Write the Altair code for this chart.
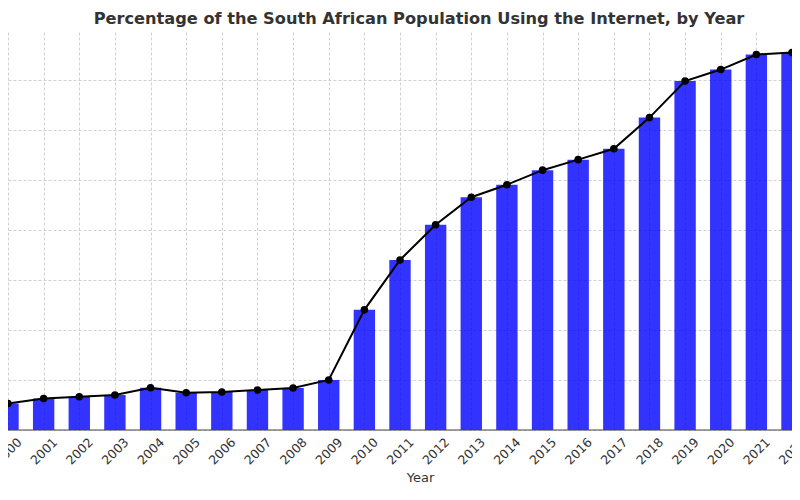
import altair as alt
import pandas as pd

years = list(range(2000, 2023))
internet_pct = [5.3, 6.3, 6.65, 7.0, 8.43, 7.45, 7.6, 8.0, 8.4, 10.0,
                24.0, 33.97, 41.0, 46.5, 49.0, 51.9, 54.0, 56.17, 62.4, 69.7,
                72.0, 75.0, 75.4]
title_text = "Percentage of the South African Population Using the Internet, by Year"
y_ticks = [0, 10, 20, 30, 40, 50, 60, 70]
baseline_value = [0]

df = pd.DataFrame({"year": years, "pct": internet_pct})
df_base = pd.DataFrame({"v": baseline_value})

FONT = "DejaVu Sans"
TXT = "#333333"

xscale = alt.Scale(domain=[2000, 2022], nice=False, zero=False)
yscale = alt.Scale(domain=[0, 79.5], nice=False)

xaxis = alt.Axis(
    values=years, format="d", title="Year", labelAngle=-45, labelAlign="center",
    labelBaseline="middle", labelPadding=21, ticks=False, labelFlush=False,
    labelOverlap=False, labelFontSize=12.5, labelColor=TXT, labelFont=FONT,
    titleFontSize=13, titleFontWeight="normal", titleColor=TXT, titleFont=FONT,
    titleX=412, titleY=51, titleBaseline="alphabetic", titleAlign="center",
    domain=False, grid=True, gridColor="#c4c4c4",
    gridDash=[3, 2], gridWidth=0.8,
)
yaxis = alt.Axis(
    values=y_ticks, title=None, labels=False, ticks=False, domain=False,
    grid=True, gridColor="#c4c4c4", gridDash=[3, 2], gridWidth=0.8,
)

base = alt.Chart(df)

bars = base.transform_calculate(
    x0="datum.year - 0.3", x1="datum.year + 0.3"
).mark_bar(color="#0000ff", opacity=0.8).encode(
    x=alt.X("x0:Q", scale=xscale, axis=xaxis),
    x2="x1:Q",
    y=alt.Y("pct:Q", scale=yscale, axis=yaxis),
    y2=alt.datum(0),
)

axis_line = alt.Chart(df_base).mark_rule(color="#444444", strokeWidth=1).encode(
    y=alt.Y("v:Q", scale=yscale, axis=yaxis),
)

line = base.mark_line(color="black", strokeWidth=2).encode(
    x=alt.X("year:Q", scale=xscale, axis=xaxis),
    y=alt.Y("pct:Q", scale=yscale, axis=yaxis),
)

points = base.mark_circle(color="black", size=58, opacity=1).encode(
    x=alt.X("year:Q", scale=xscale, axis=xaxis),
    y=alt.Y("pct:Q", scale=yscale, axis=yaxis),
)

chart = alt.layer(bars, axis_line, line, points).properties(
    width=784,
    height=398,
    title=alt.TitleParams(
        text=title_text, fontSize=16.2, fontWeight="bold", color=TXT, font=FONT,
        anchor="middle", dx=19, dy=15, offset=7, baseline="alphabetic",
    ),
    autosize=alt.AutoSizeParams(type="none"),
    padding={"left": 0, "right": 0, "top": 24, "bottom": 58},
).configure_view(stroke=None)

chart.save("out.html", embed_options={"renderer": "svg", "actions": False})
